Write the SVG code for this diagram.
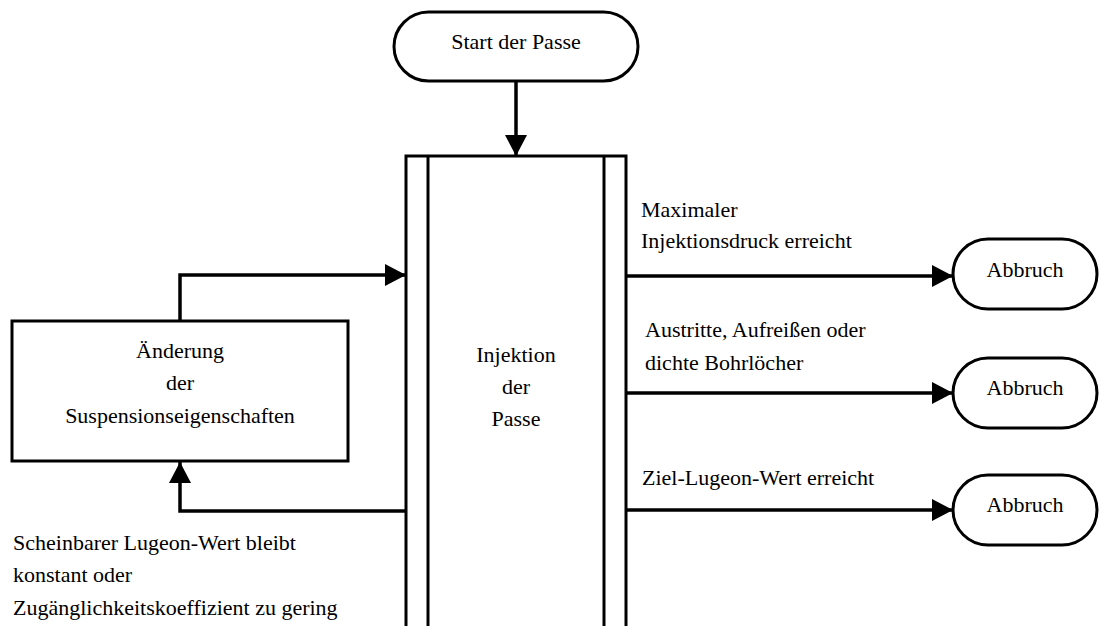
<svg xmlns="http://www.w3.org/2000/svg" width="1099" height="626" viewBox="0 0 1099 626">
<defs>
<marker id="arr" viewBox="0 0 21 22" refX="21" refY="11" markerWidth="21" markerHeight="22" markerUnits="userSpaceOnUse" orient="auto">
<path d="M0,0 L21,11 L0,22 Z" fill="#000"/>
</marker>
<style>
.s{fill:#fff;stroke:#000;stroke-width:3}
.l{fill:none;stroke:#000;stroke-width:3.5;marker-end:url(#arr)}
text{font-family:'Liberation Serif','DejaVu Serif',serif;font-size:22px;fill:#000}
.c{text-anchor:middle}
</style>
</defs>
<rect width="1099" height="626" fill="#fff"/>
<g id="start">
<rect class="s" x="394" y="12" width="244" height="69" rx="34.5"/>
<text class="c" x="516" y="49">Start der Passe</text>
</g>
<g id="injektion">
<path class="s" d="M406,640 L406,156 L626,156 L626,640"/>
<path d="M428,156 L428,640 M604,156 L604,640" stroke="#000" stroke-width="3" fill="none"/>
<text class="c" x="516" y="362">Injektion</text>
<text class="c" x="516" y="394">der</text>
<text class="c" x="516" y="426">Passe</text>
</g>
<g id="aenderung">
<rect class="s" x="12" y="321" width="336" height="140"/>
<text class="c" x="180" y="358">Änderung</text>
<text class="c" x="180" y="390">der</text>
<text class="c" x="180" y="423">Suspensionseigenschaften</text>
</g>
<g id="abbruch1">
<rect class="s" x="953" y="239" width="144" height="70" rx="35"/>
<text class="c" x="1025" y="277">Abbruch</text>
</g>
<g id="abbruch2">
<rect class="s" x="953" y="358" width="144" height="70" rx="35"/>
<text class="c" x="1025" y="395">Abbruch</text>
</g>
<g id="abbruch3">
<rect class="s" x="953" y="475" width="144" height="70" rx="35"/>
<text class="c" x="1025" y="512">Abbruch</text>
</g>
<g id="connectors">
<path class="l" d="M516,81 L516,156"/>
<path class="l" d="M180,321 L180,275 L406,275"/>
<path class="l" d="M406,511 L180,511 L180,462"/>
<path class="l" d="M626,276 L953,276"/>
<path class="l" d="M626,393 L953,393"/>
<path class="l" d="M626,510 L953,510"/>
</g>
<g id="labels">
<text x="641" y="217">Maximaler</text>
<text x="641" y="248">Injektionsdruck erreicht</text>
<text x="645" y="337">Austritte, Aufreißen oder</text>
<text x="645" y="370">dichte Bohrlöcher</text>
<text x="642" y="485">Ziel-Lugeon-Wert erreicht</text>
<text x="13" y="550">Scheinbarer Lugeon-Wert bleibt</text>
<text x="13" y="582">konstant oder</text>
<text x="13" y="615">Zugänglichkeitskoeffizient zu gering</text>
</g>
</svg>
